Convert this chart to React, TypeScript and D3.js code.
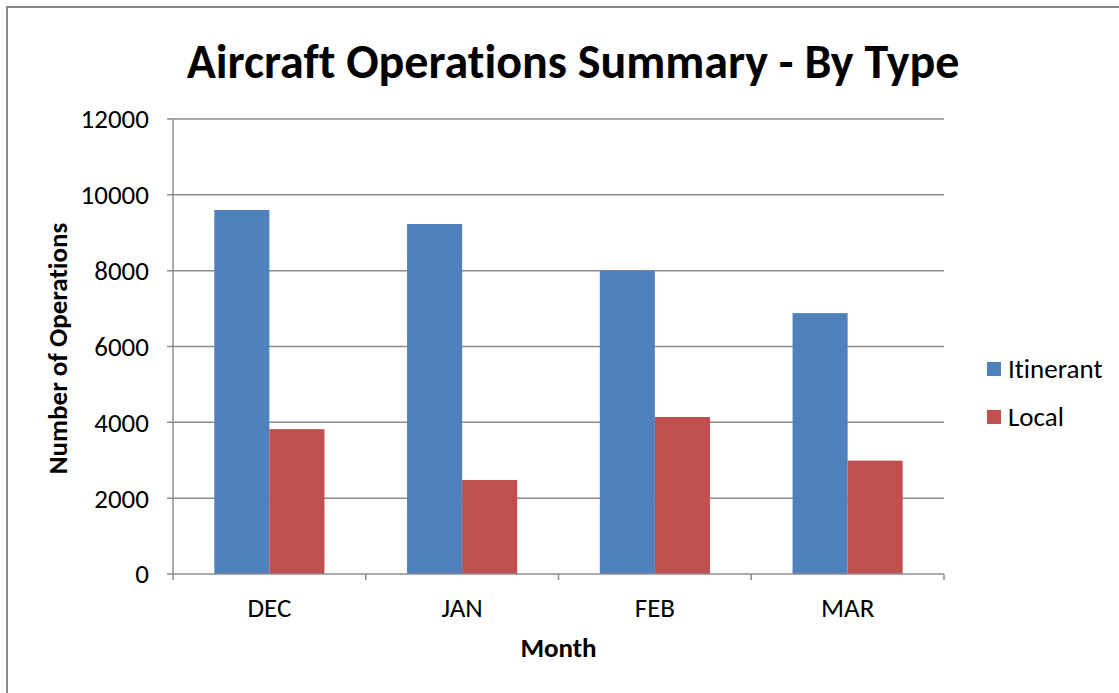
import * as d3 from "d3";
import React, { useEffect, useRef } from "react";

const months = ["DEC", "JAN", "FEB", "MAR"];
const seriesNames = ["Itinerant", "Local"];
const itinerant = [9600, 9230, 8000, 6880];
const local = [3820, 2480, 4140, 2990];
const yTicks = [0, 2000, 4000, 6000, 8000, 10000, 12000];
const colors = ["#4f81bd", "#c0504d"];

const width = 1119;
const height = 693;
const font = "Carlito, Calibri, 'Open Sans', sans-serif";

const App = () => {
  const chartRef = useRef<SVGSVGElement>(null);

  useEffect(() => {
    if (chartRef.current) {
      drawChart();
    }
  }, []);

  const drawChart = () => {
    const svg = d3
      .select(chartRef.current)
      .style("font-variant-ligatures", "none");
    svg.selectAll("*").remove();

    const margin = { left: 173, right: 175, top: 119, bottom: 119 };
    const plotW = width - margin.left - margin.right;
    const plotH = height - margin.top - margin.bottom;

    // outer frame (only top and left edges are inside the picture)
    svg
      .append("rect")
      .attr("x", 7)
      .attr("y", 7)
      .attr("width", width + 20)
      .attr("height", height + 20)
      .attr("fill", "white")
      .attr("stroke", "#898989")
      .attr("stroke-width", 2);

    const g = svg
      .append("g")
      .attr("transform", `translate(${margin.left},${margin.top})`);

    const x = d3.scaleBand().domain(months).range([0, plotW]);
    const y = d3.scaleLinear().domain([0, 12000]).range([plotH, 0]);

    // gridlines
    g.selectAll(".grid")
      .data(yTicks.filter((t) => t > 0))
      .enter()
      .append("line")
      .attr("x1", -6)
      .attr("x2", plotW)
      .attr("y1", (d) => y(d))
      .attr("y2", (d) => y(d))
      .attr("stroke", "#8c8c8c")
      .attr("stroke-width", 1.5);

    // bars: group takes 2 of 3.5 bar widths (gap width 150%)
    const barW = x.bandwidth() / 3.5;
    const groupOffset = (x.bandwidth() - 2 * barW) / 2;
    const series = [itinerant, local];

    series.forEach((vals, si) => {
      g.selectAll(`.bar${si}`)
        .data(months)
        .enter()
        .append("rect")
        .attr("x", (m) => x(m)! + groupOffset + si * barW)
        .attr("y", (m, i) => y(vals[i]))
        .attr("width", barW)
        .attr("height", (m, i) => plotH - y(vals[i]))
        .attr("fill", colors[si]);
    });

    // y axis
    g.append("line")
      .attr("x1", 0)
      .attr("x2", 0)
      .attr("y1", 0)
      .attr("y2", plotH)
      .attr("stroke", "#8c8c8c")
      .attr("stroke-width", 1.5);

    g.selectAll(".ytick")
      .data(yTicks)
      .enter()
      .append("text")
      .attr("x", -24)
      .attr("y", (d) => y(d))
      .attr("dy", "0.35em")
      .attr("text-anchor", "end")
      .attr("font-family", font)
      .attr("font-size", 27)
      .attr("fill", "black")
      .text((d) => d);

    // x axis
    g.append("line")
      .attr("x1", -6)
      .attr("x2", plotW)
      .attr("y1", plotH)
      .attr("y2", plotH)
      .attr("stroke", "#8c8c8c")
      .attr("stroke-width", 1.5);

    const bounds = months.map((m) => x(m)!).concat([plotW]);
    g.selectAll(".xtick")
      .data(bounds)
      .enter()
      .append("line")
      .attr("x1", (d) => d)
      .attr("x2", (d) => d)
      .attr("y1", plotH)
      .attr("y2", plotH + 6)
      .attr("stroke", "#8c8c8c")
      .attr("stroke-width", 1.5);

    g.selectAll(".xlabel")
      .data(months)
      .enter()
      .append("text")
      .attr("x", (m) => x(m)! + x.bandwidth() / 2)
      .attr("y", plotH + 43)
      .attr("text-anchor", "middle")
      .attr("font-family", font)
      .attr("font-size", 27)
      .attr("fill", "black")
      .text((m) => m);

    // titles
    svg
      .append("text")
      .attr("x", 573)
      .attr("y", 78)
      .attr("text-anchor", "middle")
      .attr("font-family", font)
      .attr("font-weight", "bold")
      .attr("font-size", 48)
      .text("Aircraft Operations Summary - By Type");

    svg
      .append("text")
      .attr("x", margin.left + plotW / 2)
      .attr("y", 657)
      .attr("text-anchor", "middle")
      .attr("font-family", font)
      .attr("font-weight", "bold")
      .attr("font-size", 27)
      .text("Month");

    svg
      .append("text")
      .attr("transform", `translate(67,${margin.top + plotH / 2 + 2}) rotate(-90)`)
      .attr("text-anchor", "middle")
      .attr("font-family", font)
      .attr("font-weight", "bold")
      .attr("font-size", 27)
      .text("Number of Operations");

    // legend
    const legend = svg
      .selectAll(".legend")
      .data(seriesNames)
      .enter()
      .append("g")
      .attr("transform", (d, i) => `translate(987,${362 + i * 48})`);
    legend
      .append("rect")
      .attr("width", 14)
      .attr("height", 14)
      .attr("fill", (d, i) => colors[i]);
    legend
      .append("text")
      .attr("x", 21)
      .attr("y", 7)
      .attr("dy", "0.35em")
      .attr("font-family", font)
      .attr("font-size", 27)
      .text((d) => d);
  };

  return (
    <svg
      ref={chartRef}
      width={width}
      height={height}
      style={{ position: "absolute", left: 0, top: 0 }}
    />
  );
};

export default App;
